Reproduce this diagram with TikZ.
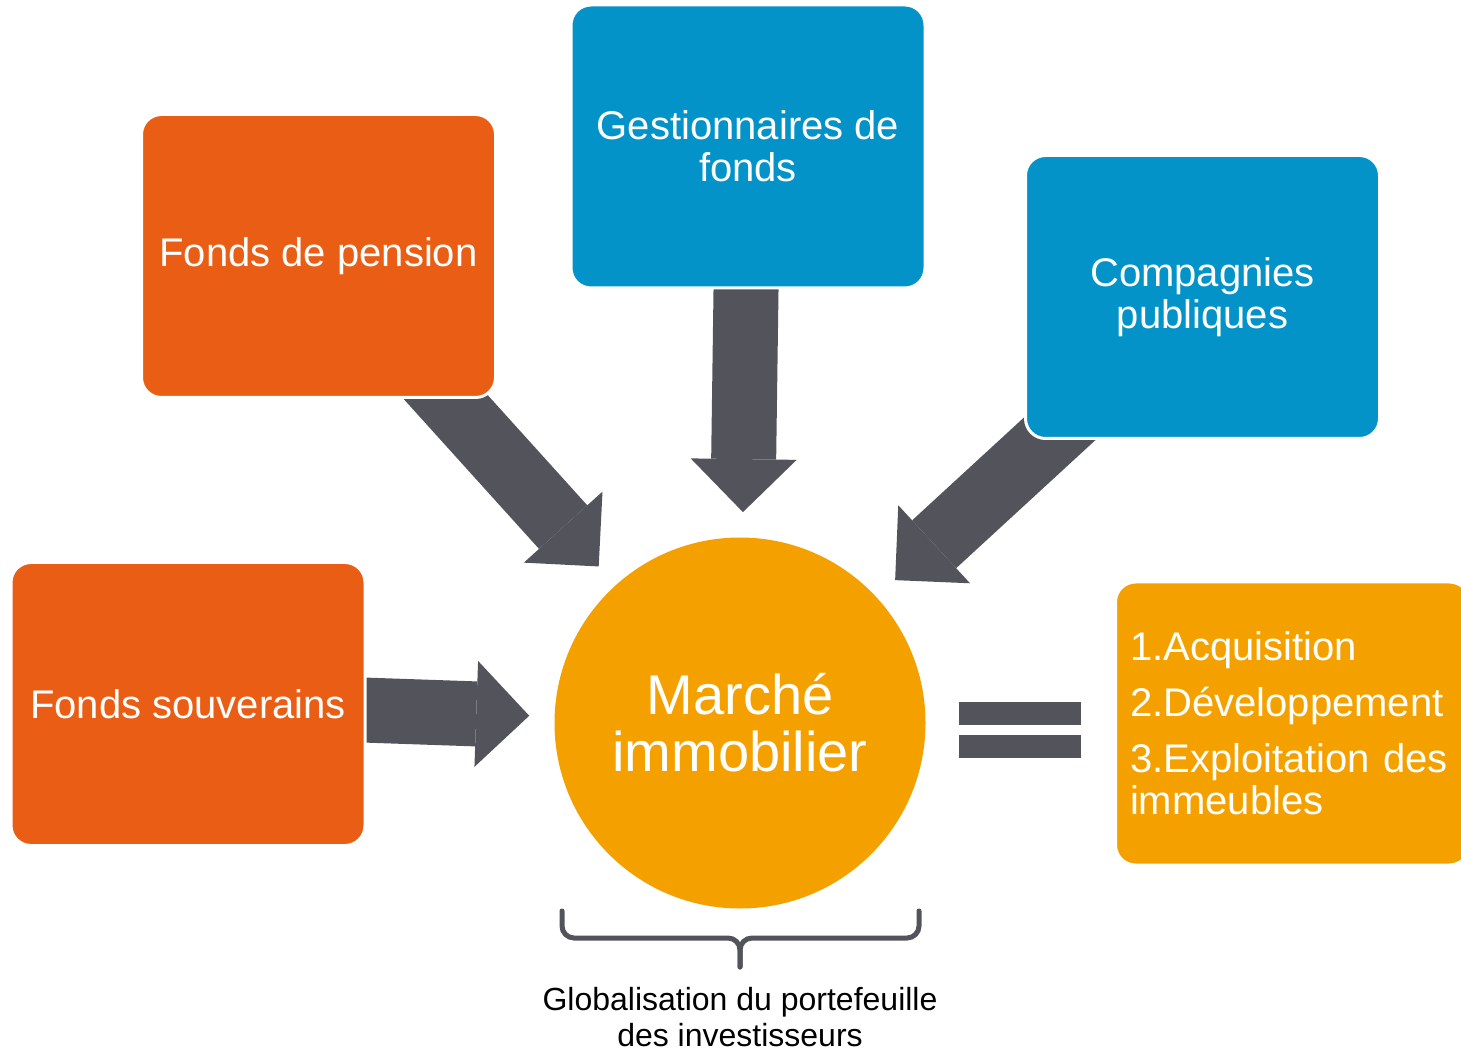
\documentclass[tikz,border=0pt]{standalone}
\usepackage{fontspec}
\setmainfont{Liberation Sans}
\usetikzlibrary{arrows.meta,calc,backgrounds}
\definecolor{investororange}{RGB}{234,93,20}
\definecolor{investorblue}{RGB}{4,147,201}
\definecolor{marketyellow}{RGB}{244,161,0}
\definecolor{flowgray}{RGB}{83,83,91}
\tikzset{investor/.style={draw=white,line width=1.5pt,rounded corners=10pt,minimum width=177pt,minimum height=141.5pt,text=white,align=center,inner sep=4pt,font=\fontsize{20}{21}\selectfont}}
\tikzset{flow/.style={flowgray,line width=32.5pt,-{Triangle[length=26.5pt,width=53pt,line width=0pt]},shorten <=-20pt,shorten >=12.5pt}}
\tikzset{bracket/.style={flowgray,line width=2.5pt,rounded corners=6pt,line cap=round}}

\begin{document}
\begin{tikzpicture}[x=0.5pt,y=-0.5pt]
\useasboundingbox (0,0) rectangle (1461,1052);

% Investors
\node[investor,fill=investororange] (pension) at (318.5,256) {Fonds de pension};
\node[investor,fill=investorblue] (gestion) at (748,146.5) {Gestionnaires de\\fonds};
\node[investor,fill=investorblue] (compagnies) at (1202.5,297) {Compagnies\\publiques};
\node[investor,fill=investororange] (souverains) at (188,704) {Fonds souverains};

% Market
\node[circle,fill=marketyellow,minimum size=185.5pt,inner sep=0pt,text=white,align=center,font=\fontsize{28}{28.5}\selectfont] (marche) at (740,723) {Marché\\immobilier};

% Activities
\node[investor,fill=marketyellow,text width=162.5pt,inner xsep=7.25pt,align=left] (etapes) at (1292.5,723.5) {1.Acquisition\\[7pt]2.Développement\\[7pt]3.Exploitation des\\immeubles};

% Flows
\begin{scope}[on background layer]
\draw[flow] (pension) -- (marche);
\draw[flow] (gestion) -- (marche);
\draw[flow] (compagnies) -- (marche);
\draw[flow] (souverains) -- (marche);
\end{scope}

% Equal sign
\coordinate (eq) at ($(marche.east)!0.5!(etapes.west)$);
\fill[flowgray] ($(eq)+(-61,-21)$) rectangle ($(eq)+(61,2)$);
\fill[flowgray] ($(eq)+(-61,12)$) rectangle ($(eq)+(61,35)$);

% Brace
\draw[bracket] ($(marche)+(-178,188)$) -- ($(marche)+(-178,215)$) -- ($(marche)+(0,215)$) -- ($(marche)+(0,244)$);
\draw[bracket] ($(marche)+(179,188)$) -- ($(marche)+(179,215)$) -- ($(marche)+(0,215)$) -- ($(marche)+(0,244)$);

% Labeling
\node[anchor=north,inner sep=0pt,align=center,font=\fontsize{16}{18}\selectfont] (globalisation) at ($(marche)+(0,264)$) {Globalisation du portefeuille\\des investisseurs};

\end{tikzpicture}
\end{document}
